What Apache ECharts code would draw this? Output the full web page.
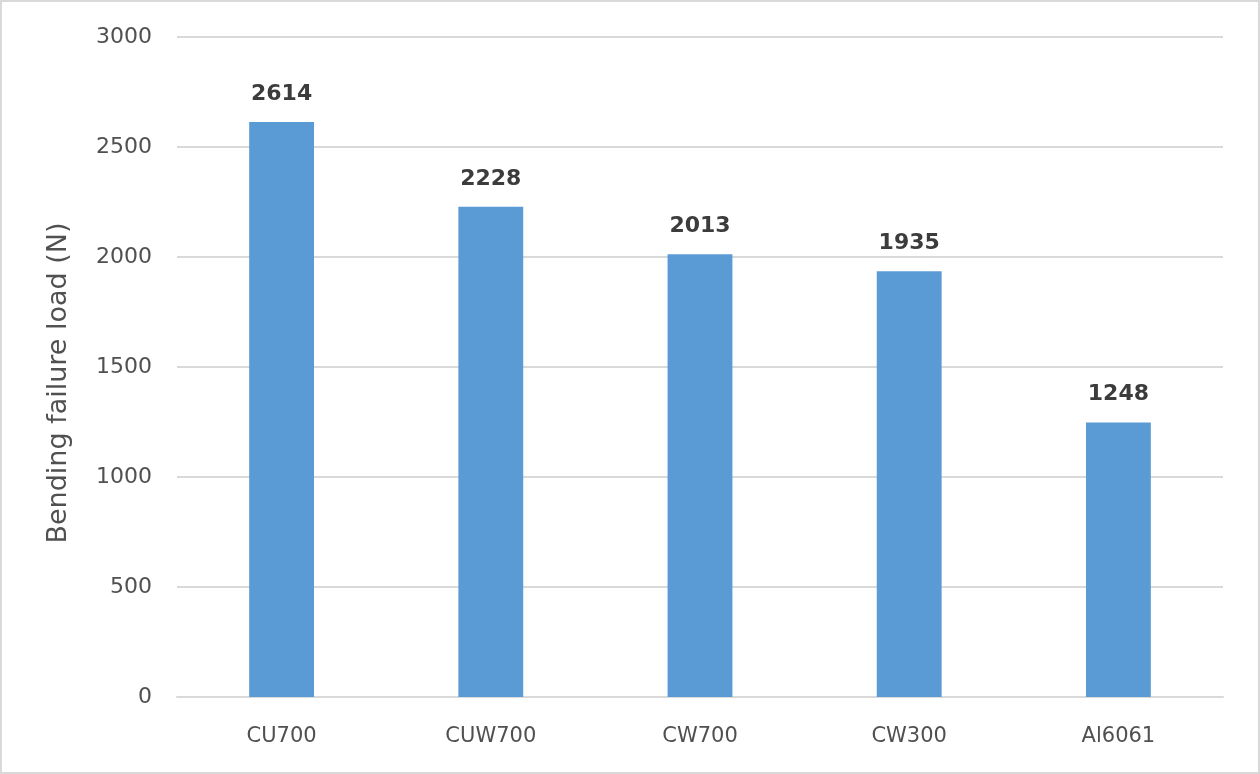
<!DOCTYPE html>
<html>
<head>
<meta charset="utf-8">
<script src="https://cdn.jsdelivr.net/npm/echarts@6/dist/echarts.min.js"></script>
<style>
html, body { margin: 0; padding: 0; background: #fff; }
#main {
    width: 1256px;
    height: 770px;
    border: 2px solid #d9d9d9;
}
</style>
</head>
<body>
<div id="main"></div>
<script>
// 样品类别
var categories = ['CU700', 'CUW700', 'CW700', 'CW300', 'Al6061'];
// 弯曲破坏载荷 (N)
var loads = [2614, 2228, 2013, 1935, 1248];
var yTicks = [0, 500, 1000, 1500, 2000, 2500, 3000];

var myChart = echarts.init(document.getElementById('main'));
var option = {
    backgroundColor: '#fff',
    textStyle: { fontFamily: 'DejaVu Sans' },
    grid: {
        left: 175,
        right: 35,
        top: 35,
        bottom: 75
    },
    xAxis: {
        type: 'category',
        data: categories,
        axisTick: { show: false },
        axisLine: { lineStyle: { color: '#d9d9d9', width: 2 } },
        axisLabel: { color: '#505050', fontSize: 21, margin: 29 }
    },
    yAxis: {
        type: 'value',
        min: yTicks[0],
        max: yTicks[yTicks.length - 1],
        interval: 500,
        name: 'Bending failure load (N)',
        nameLocation: 'middle',
        nameGap: 105,
        nameTextStyle: { color: '#505050', fontSize: 27, padding: [0, 32, 0, 0] },
        axisLine: { show: false },
        axisTick: { show: false },
        axisLabel: {
            color: '#505050',
            fontSize: 22,
            margin: 25,
            formatter: function (v) { return String(v); }
        },
        splitLine: { lineStyle: { color: '#d9d9d9', width: 2 } }
    },
    series: [
        {
            type: 'bar',
            data: loads,
            barWidth: '31%',
            itemStyle: { color: '#5b9bd5' },
            label: {
                show: true,
                position: 'top',
                distance: 17,
                color: '#3c3c3c',
                fontSize: 22,
                fontWeight: 'bold'
            }
        }
    ]
};
myChart.setOption(option);
</script>
</body>
</html>
